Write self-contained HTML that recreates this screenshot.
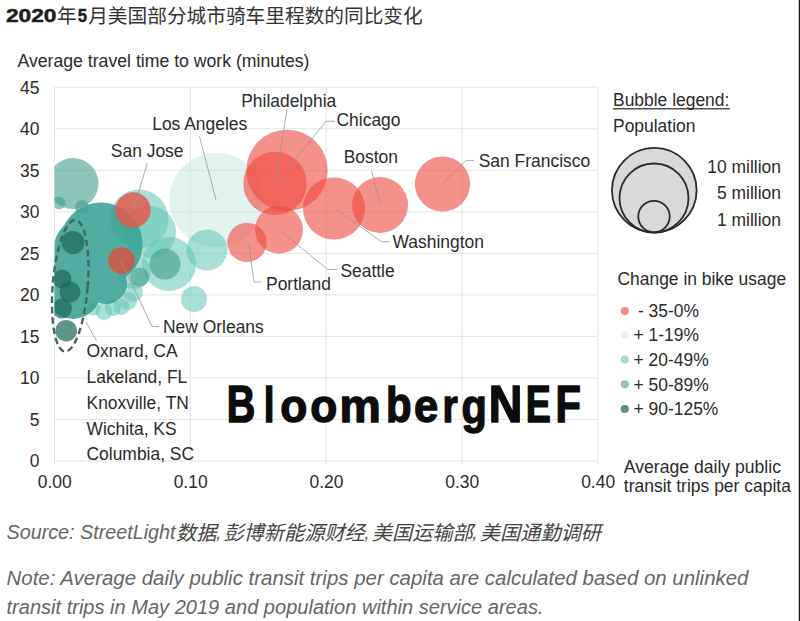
<!DOCTYPE html>
<html><head><meta charset="utf-8"><title>chart</title>
<style>html,body{margin:0;padding:0;background:#fff}svg{display:block}text{font-family:"Liberation Sans",sans-serif}</style></head>
<body>
<svg width="800" height="621" viewBox="0 0 800 621" font-family="Liberation Sans, sans-serif">
<rect width="800" height="621" fill="#fff"/>
<text x="5.9" y="22.3" font-size="19" font-weight="bold" textLength="50.6" lengthAdjust="spacingAndGlyphs" fill="#1e1e1e" stroke="#1e1e1e" stroke-width="0.5">2020</text>
<text x="57" y="22.9" font-size="19.6" fill="#333" style="font-family:'Liberation Sans','Noto Sans CJK SC',sans-serif">年</text>
<text x="77.8" y="22.3" font-size="19" font-weight="bold" textLength="9.3" lengthAdjust="spacingAndGlyphs" fill="#1e1e1e" stroke="#1e1e1e" stroke-width="0.5">5</text>
<text x="88.2" y="22.9" font-size="19.68" textLength="334.56" lengthAdjust="spacingAndGlyphs" fill="#333" style="font-family:'Liberation Sans','Noto Sans CJK SC',sans-serif">月美国部分城市骑车里程数的同比变化</text>
<line x1="54.5" x2="597.82" y1="461.00" y2="461.00" stroke="#e5e5e5" stroke-width="1"/>
<line x1="54.5" x2="597.82" y1="419.47" y2="419.47" stroke="#e5e5e5" stroke-width="1"/>
<line x1="54.5" x2="597.82" y1="377.94" y2="377.94" stroke="#e5e5e5" stroke-width="1"/>
<line x1="54.5" x2="597.82" y1="336.41" y2="336.41" stroke="#e5e5e5" stroke-width="1"/>
<line x1="54.5" x2="597.82" y1="294.88" y2="294.88" stroke="#e5e5e5" stroke-width="1"/>
<line x1="54.5" x2="597.82" y1="253.35" y2="253.35" stroke="#e5e5e5" stroke-width="1"/>
<line x1="54.5" x2="597.82" y1="211.82" y2="211.82" stroke="#e5e5e5" stroke-width="1"/>
<line x1="54.5" x2="597.82" y1="170.29" y2="170.29" stroke="#e5e5e5" stroke-width="1"/>
<line x1="54.5" x2="597.82" y1="128.76" y2="128.76" stroke="#e5e5e5" stroke-width="1"/>
<line x1="54.5" x2="597.82" y1="87.23" y2="87.23" stroke="#e5e5e5" stroke-width="1"/>
<line x1="54.50" x2="54.50" y1="87.23" y2="464.5" stroke="#e5e5e5" stroke-width="1"/>
<line x1="190.33" x2="190.33" y1="87.23" y2="464.5" stroke="#e5e5e5" stroke-width="1"/>
<line x1="326.16" x2="326.16" y1="87.23" y2="464.5" stroke="#e5e5e5" stroke-width="1"/>
<line x1="461.99" x2="461.99" y1="87.23" y2="464.5" stroke="#e5e5e5" stroke-width="1"/>
<line x1="597.82" x2="597.82" y1="87.23" y2="464.5" stroke="#e5e5e5" stroke-width="1"/>
<text x="17.5" y="66.5" font-size="17.45" textLength="292" lengthAdjust="spacingAndGlyphs" fill="#2b2b2b">Average travel time to work (minutes)</text>
<text x="39.5" y="467.3" font-size="17.45" text-anchor="end" fill="#2b2b2b">0</text>
<text x="39.5" y="425.77000000000004" font-size="17.45" text-anchor="end" fill="#2b2b2b">5</text>
<text x="39.5" y="384.24" font-size="17.45" text-anchor="end" fill="#2b2b2b">10</text>
<text x="39.5" y="342.71" font-size="17.45" text-anchor="end" fill="#2b2b2b">15</text>
<text x="39.5" y="301.18" font-size="17.45" text-anchor="end" fill="#2b2b2b">20</text>
<text x="39.5" y="259.65" font-size="17.45" text-anchor="end" fill="#2b2b2b">25</text>
<text x="39.5" y="218.11999999999998" font-size="17.45" text-anchor="end" fill="#2b2b2b">30</text>
<text x="39.5" y="176.58999999999997" font-size="17.45" text-anchor="end" fill="#2b2b2b">35</text>
<text x="39.5" y="135.06" font-size="17.45" text-anchor="end" fill="#2b2b2b">40</text>
<text x="39.5" y="93.52999999999996" font-size="17.45" text-anchor="end" fill="#2b2b2b">45</text>
<text x="54.8" y="487.7" font-size="17.45" text-anchor="middle" fill="#2b2b2b">0.00</text>
<text x="190.63000000000002" y="487.7" font-size="17.45" text-anchor="middle" fill="#2b2b2b">0.10</text>
<text x="326.46000000000004" y="487.7" font-size="17.45" text-anchor="middle" fill="#2b2b2b">0.20</text>
<text x="462.2900000000001" y="487.7" font-size="17.45" text-anchor="middle" fill="#2b2b2b">0.30</text>
<text x="598.12" y="487.7" font-size="17.45" text-anchor="middle" fill="#2b2b2b">0.40</text>
<text x="623.8" y="472.5" font-size="17.45" textLength="157.2" lengthAdjust="spacingAndGlyphs" fill="#2b2b2b">Average daily public</text>
<text x="623.8" y="492" font-size="17.45" textLength="167.1" lengthAdjust="spacingAndGlyphs" fill="#2b2b2b">transit trips per capita</text>
<clipPath id="pc"><rect x="54.5" y="87.22999999999996" width="543.32" height="373.77000000000004"/></clipPath>
<g clip-path="url(#pc)">
<circle cx="216.5" cy="200" r="47.2" fill="rgba(196,230,223,0.50)"/>
<circle cx="139" cy="219" r="29.5" fill="rgba(96,196,182,0.55)"/>
<circle cx="169" cy="264" r="27" fill="rgba(96,196,182,0.55)"/>
<circle cx="207" cy="250" r="20.5" fill="rgba(96,196,182,0.55)"/>
<circle cx="194" cy="299" r="13" fill="rgba(96,196,182,0.55)"/>
<circle cx="104" cy="311.5" r="8.5" fill="rgba(96,196,182,0.55)"/>
<circle cx="113" cy="308" r="8" fill="rgba(96,196,182,0.55)"/>
<circle cx="128" cy="301" r="9" fill="rgba(96,196,182,0.55)"/>
<circle cx="93.5" cy="308.5" r="7" fill="rgba(96,196,182,0.55)"/>
<circle cx="150" cy="232" r="26" fill="rgba(96,196,182,0.55)"/>
<circle cx="133" cy="292" r="10" fill="rgba(96,196,182,0.55)"/>
<circle cx="134" cy="272" r="17" fill="rgba(96,196,182,0.55)"/>
<circle cx="121.5" cy="307" r="8" fill="rgba(96,196,182,0.55)"/>
<circle cx="73" cy="183.5" r="25.5" fill="rgba(66,158,140,0.60)"/>
<circle cx="59" cy="203" r="6.5" fill="rgba(66,158,140,0.60)"/>
<circle cx="82" cy="207" r="7" fill="rgba(66,158,140,0.60)"/>
<circle cx="165" cy="264" r="15.5" fill="rgba(66,158,140,0.60)"/>
<circle cx="139.5" cy="277" r="9.5" fill="rgba(66,158,140,0.60)"/>
<g opacity="0.88" fill="#3ba195">
<circle cx="101" cy="244" r="41.5"/>
<circle cx="84" cy="248" r="30"/>
<circle cx="73" cy="291" r="28"/>
<circle cx="106" cy="283" r="21"/>
<circle cx="72" cy="262" r="21"/>
</g>
<circle cx="73" cy="242.5" r="11.5" fill="rgba(28,104,94,0.72)"/>
<circle cx="62" cy="279" r="9.5" fill="rgba(28,104,94,0.72)"/>
<circle cx="70" cy="292" r="10.5" fill="rgba(28,104,94,0.72)"/>
<circle cx="62" cy="308.5" r="10" fill="rgba(28,104,94,0.72)"/>
<circle cx="66.2" cy="330.7" r="10.8" fill="rgba(60,124,114,0.82)"/>
<circle cx="287" cy="170.4" r="40.7" fill="rgba(238,72,62,0.60)"/>
<circle cx="275" cy="183.5" r="31.7" fill="rgba(238,72,62,0.60)"/>
<circle cx="334" cy="208.5" r="31" fill="rgba(238,72,62,0.60)"/>
<circle cx="380" cy="205" r="28" fill="rgba(238,72,62,0.60)"/>
<circle cx="442.5" cy="184" r="27.6" fill="rgba(238,72,62,0.60)"/>
<circle cx="279" cy="229.7" r="24" fill="rgba(238,72,62,0.60)"/>
<circle cx="247" cy="242.4" r="19.7" fill="rgba(238,72,62,0.60)"/>
<circle cx="133" cy="210" r="17.7" fill="rgba(226,92,78,0.85)"/>
<circle cx="121.5" cy="260.5" r="13.3" fill="rgba(214,84,66,0.85)"/>
</g>
<ellipse cx="70.2" cy="285.8" rx="17.5" ry="66" transform="rotate(4.6 70.2 285.8)" fill="none" stroke="#48645f" stroke-width="2.4" stroke-dasharray="6.5 3.8"/>
<polyline fill="none" stroke="rgba(150,150,150,0.78)" stroke-width="1" points="287,109 275.5,182.5"/>
<polyline fill="none" stroke="rgba(150,150,150,0.78)" stroke-width="1" points="334.8,121.3 326,121.3 288.6,167.9"/>
<polyline fill="none" stroke="rgba(150,150,150,0.78)" stroke-width="1" points="371.6,170.5 379.7,203.7"/>
<polyline fill="none" stroke="rgba(150,150,150,0.78)" stroke-width="1" points="474,160.4 466,160.4 443,183.5"/>
<polyline fill="none" stroke="rgba(150,150,150,0.78)" stroke-width="1" points="390,241.7 381.3,241.7 337.4,210"/>
<polyline fill="none" stroke="rgba(150,150,150,0.78)" stroke-width="1" points="337.4,269.4 327.6,269.4 279,229.7"/>
<polyline fill="none" stroke="rgba(150,150,150,0.78)" stroke-width="1" points="248.5,243 254.2,282 261,282"/>
<polyline fill="none" stroke="rgba(150,150,150,0.78)" stroke-width="1" points="199.4,136 216,200"/>
<polyline fill="none" stroke="rgba(150,150,150,0.78)" stroke-width="1" points="147.4,163 133.5,209"/>
<polyline fill="none" stroke="rgba(150,150,150,0.78)" stroke-width="1" points="121,261 152,326.5 159,326.5"/>
<polyline fill="none" stroke="rgba(150,150,150,0.78)" stroke-width="1" points="86,322 96.5,340.7"/>
<text x="241.2" y="106.6" font-size="17.45" fill="#2b2b2b">Philadelphia</text>
<text x="336.5" y="126.4" font-size="17.45" fill="#2b2b2b">Chicago</text>
<text x="343.7" y="163.2" font-size="17.45" fill="#2b2b2b">Boston</text>
<text x="478.7" y="166.6" font-size="17.45" fill="#2b2b2b">San Francisco</text>
<text x="392.5" y="247.6" font-size="17.45" fill="#2b2b2b">Washington</text>
<text x="340.4" y="277" font-size="17.45" fill="#2b2b2b">Seattle</text>
<text x="266" y="290" font-size="17.45" fill="#2b2b2b">Portland</text>
<text x="152.2" y="129.6" font-size="17.45" fill="#2b2b2b">Los Angeles</text>
<text x="110.8" y="156.8" font-size="17.45" fill="#2b2b2b">San Jose</text>
<text x="163" y="332.8" font-size="17.45" fill="#2b2b2b">New Orleans</text>
<text x="86.5" y="357.3" font-size="17.45" fill="#2b2b2b">Oxnard, CA</text>
<text x="86.5" y="383.05" font-size="17.45" fill="#2b2b2b">Lakeland, FL</text>
<text x="86.5" y="408.8" font-size="17.45" fill="#2b2b2b">Knoxville, TN</text>
<text x="86.5" y="434.55" font-size="17.45" fill="#2b2b2b">Wichita, KS</text>
<text x="86.5" y="460.3" font-size="17.45" fill="#2b2b2b">Columbia, SC</text>
<text x="613" y="106.1" font-size="17.45" fill="#2b2b2b">Bubble legend:</text>
<rect x="612.8" y="108.2" width="117" height="1.2" fill="#2b2b2b"/>
<text x="613" y="132.2" font-size="17.45" fill="#2b2b2b">Population</text>
<g fill="#d9d9d9" stroke="#2a2a2a" stroke-width="1.8">
<circle cx="654.3" cy="190.2" r="42.3"/><circle cx="654" cy="198" r="34.5"/><circle cx="654" cy="216.5" r="15.7"/></g>
<text x="781" y="172.9" font-size="17.45" text-anchor="end" fill="#2b2b2b">10 million</text>
<text x="781" y="199.3" font-size="17.45" text-anchor="end" fill="#2b2b2b">5 million</text>
<text x="781" y="226.1" font-size="17.45" text-anchor="end" fill="#2b2b2b">1 million</text>
<text x="617.5" y="285" font-size="17.45" textLength="168.6" lengthAdjust="spacingAndGlyphs" fill="#2b2b2b">Change in bike usage</text>
<circle cx="624.8" cy="311" r="4.1" fill="#f08b88"/>
<text x="637.9" y="316.8" font-size="17.45" fill="#2b2b2b">- 35-0%</text>
<circle cx="624.8" cy="335" r="4.1" fill="#efefef"/>
<text x="633.5" y="341.3" font-size="17.45" fill="#2b2b2b">+ 1-19%</text>
<circle cx="624.8" cy="359.6" r="4.1" fill="#a3dccf"/>
<text x="633.5" y="365.8" font-size="17.45" fill="#2b2b2b">+ 20-49%</text>
<circle cx="624.8" cy="384.3" r="4.1" fill="#94c4b6"/>
<text x="633.5" y="390.6" font-size="17.45" fill="#2b2b2b">+ 50-89%</text>
<circle cx="624.8" cy="409" r="4.1" fill="#5e8d84"/>
<text x="633.5" y="415.2" font-size="17.45" fill="#2b2b2b">+ 90-125%</text>
<text transform="translate(226.82,421.79) scale(0.7895,1.0342)" font-size="50" font-weight="bold" fill="#0c0c0c" stroke="#0c0c0c" stroke-width="1.5" stroke-linejoin="round">B</text>
<text transform="translate(263.75,421.79) scale(0.7762,0.9819)" font-size="50" font-weight="bold" fill="#0c0c0c" stroke="#0c0c0c" stroke-width="1.5" stroke-linejoin="round">l</text>
<text transform="translate(280.23,421.84) scale(0.8851,0.9154)" font-size="50" font-weight="bold" fill="#0c0c0c" stroke="#0c0c0c" stroke-width="1.5" stroke-linejoin="round">o</text>
<text transform="translate(310.23,421.84) scale(0.8851,0.9154)" font-size="50" font-weight="bold" fill="#0c0c0c" stroke="#0c0c0c" stroke-width="1.5" stroke-linejoin="round">o</text>
<text transform="translate(339.40,421.79) scale(0.9281,0.9126)" font-size="50" font-weight="bold" fill="#0c0c0c" stroke="#0c0c0c" stroke-width="1.5" stroke-linejoin="round">m</text>
<text transform="translate(385.96,421.81) scale(0.8365,0.9825)" font-size="50" font-weight="bold" fill="#0c0c0c" stroke="#0c0c0c" stroke-width="1.5" stroke-linejoin="round">b</text>
<text transform="translate(414.01,421.84) scale(0.8728,0.9154)" font-size="50" font-weight="bold" fill="#0c0c0c" stroke="#0c0c0c" stroke-width="1.5" stroke-linejoin="round">e</text>
<text transform="translate(442.38,421.79) scale(0.7838,0.9126)" font-size="50" font-weight="bold" fill="#0c0c0c" stroke="#0c0c0c" stroke-width="1.5" stroke-linejoin="round">r</text>
<text transform="translate(461.51,422.92) scale(0.8281,0.9547)" font-size="50" font-weight="bold" fill="#0c0c0c" stroke="#0c0c0c" stroke-width="1.5" stroke-linejoin="round">g</text>
<text transform="translate(488.85,421.79) scale(0.9296,1.0342)" font-size="50" font-weight="bold" fill="#0c0c0c" stroke="#0c0c0c" stroke-width="1.5" stroke-linejoin="round">N</text>
<text transform="translate(525.70,421.79) scale(0.7513,1.0342)" font-size="50" font-weight="bold" fill="#0c0c0c" stroke="#0c0c0c" stroke-width="1.5" stroke-linejoin="round">E</text>
<text transform="translate(555.43,421.79) scale(0.8308,1.0342)" font-size="50" font-weight="bold" fill="#0c0c0c" stroke="#0c0c0c" stroke-width="1.5" stroke-linejoin="round">F</text>
<text x="6.5" y="539" font-size="19.6" font-style="italic" textLength="169" lengthAdjust="spacingAndGlyphs" fill="#666">Source: StreetLight</text>
<text x="176" y="540.2" font-size="20.2" font-style="italic" textLength="40.4" lengthAdjust="spacingAndGlyphs" fill="#444" style="font-family:'Liberation Sans','Noto Sans CJK SC',sans-serif">数据</text>
<text x="215.89999999999998" y="539" font-size="19.6" font-style="italic" fill="#666">,</text>
<text x="223.4" y="540.2" font-size="20.2" font-style="italic" textLength="141.4" lengthAdjust="spacingAndGlyphs" fill="#444" style="font-family:'Liberation Sans','Noto Sans CJK SC',sans-serif">彭博新能源财经</text>
<text x="364.2999999999999" y="539" font-size="19.6" font-style="italic" fill="#666">,</text>
<text x="371.8" y="540.2" font-size="20.2" font-style="italic" textLength="101" lengthAdjust="spacingAndGlyphs" fill="#444" style="font-family:'Liberation Sans','Noto Sans CJK SC',sans-serif">美国运输部</text>
<text x="472.29999999999984" y="539" font-size="19.6" font-style="italic" fill="#666">,</text>
<text x="479.8" y="540.2" font-size="20.2" font-style="italic" textLength="121.2" lengthAdjust="spacingAndGlyphs" fill="#444" style="font-family:'Liberation Sans','Noto Sans CJK SC',sans-serif">美国通勤调研</text>
<text x="6.5" y="584.6" font-size="19.6" font-style="italic" textLength="742" lengthAdjust="spacingAndGlyphs" fill="#666">Note: Average daily public transit trips per capita are calculated based on unlinked</text>
<text x="6.5" y="614" font-size="19.6" font-style="italic" textLength="537" lengthAdjust="spacingAndGlyphs" fill="#666">transit trips in May 2019 and population within service areas.</text>
<rect x="794.3" y="0" width="1" height="621" fill="#f4f4f4"/>
<rect x="798.8" y="0" width="1.2" height="621" fill="#111"/>
</svg>
</body></html>
